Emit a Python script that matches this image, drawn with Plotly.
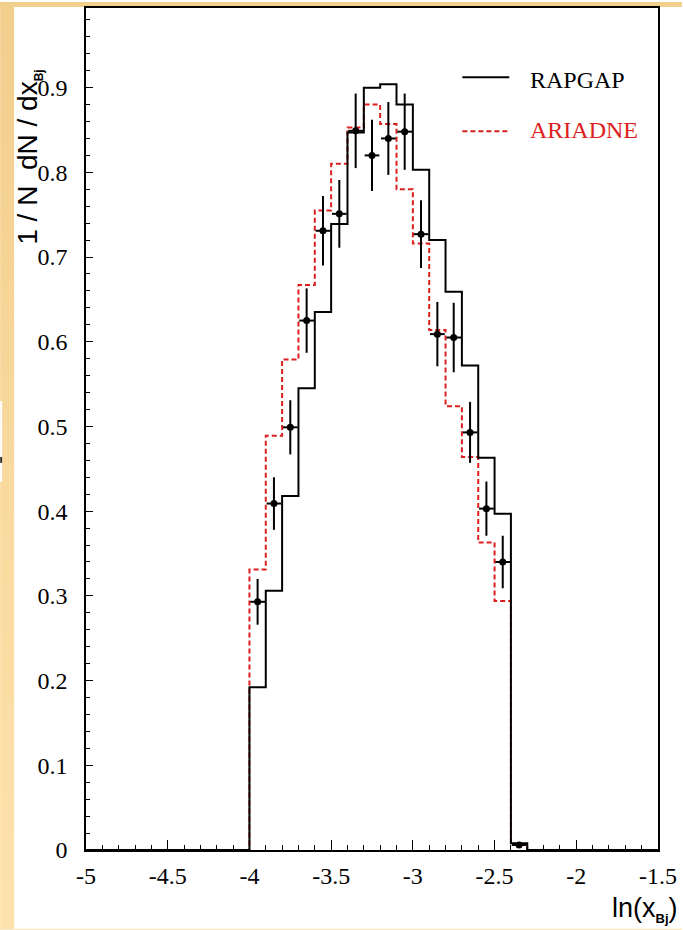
import numpy as np
import plotly.graph_objects as go

# Histogram binning: 35 bins of width 0.1 between -5 and -1.5
BIN_LO, BIN_HI, N_BINS = -5.0, -1.5, 35

# Monte Carlo predictions, 1/N dN/dx per bin (left to right)
rapgap = [0, 0, 0, 0, 0, 0, 0, 0, 0, 0,
          0.192, 0.306, 0.418, 0.545, 0.635, 0.739, 0.847, 0.900,
          0.904, 0.880, 0.803, 0.720, 0.659, 0.572, 0.463, 0.397,
          0.008, 0, 0, 0, 0, 0, 0, 0, 0]
ariadne = [0, 0, 0, 0, 0, 0, 0, 0, 0, 0,
           0.331, 0.489, 0.579, 0.667, 0.755, 0.810, 0.853, 0.880,
           0.857, 0.780, 0.716, 0.614, 0.524, 0.464, 0.363, 0.294,
           0.006, 0, 0, 0, 0, 0, 0, 0, 0]

# Measured points with statistical errors
data_x = [-3.95, -3.85, -3.75, -3.65, -3.55, -3.45, -3.35, -3.25, -3.15,
          -3.05, -2.95, -2.85, -2.75, -2.65, -2.55, -2.45, -2.35]
data_y = [0.293, 0.409, 0.499, 0.625, 0.731, 0.751, 0.849, 0.820, 0.840,
          0.848, 0.727, 0.609, 0.605, 0.493, 0.403, 0.340, 0.006]
data_err = [0.027, 0.031, 0.032, 0.038, 0.041, 0.040, 0.044, 0.042, 0.043,
            0.045, 0.040, 0.038, 0.041, 0.036, 0.032, 0.031, 0.003]

x_tick_vals = [-5, -4.5, -4, -3.5, -3, -2.5, -2, -1.5]
x_tick_text = ["-5", "-4.5", "-4", "-3.5", "-3", "-2.5", "-2", "-1.5"]
y_tick_vals = [0, 0.1, 0.2, 0.3, 0.4, 0.5, 0.6, 0.7, 0.8, 0.9]
y_tick_text = ["0", "0.1", "0.2", "0.3", "0.4", "0.5", "0.6", "0.7", "0.8", "0.9"]

W, H = 683, 930
ML, MR, MT, MB = 86, 24, 6, 80
PW, PH = W - ML - MR, H - MT - MB


def px(x):
    return (x - ML) / PW


def py(y):
    return (H - MB - y) / PH


edges = np.linspace(BIN_LO, BIN_HI, N_BINS + 1)


def step(vals):
    return list(edges), list(vals) + [vals[-1]]


RED = "#dc1e1e"
SERIF = "Liberation Serif"
SANS = "Liberation Sans"

fig = go.Figure()

xa, ya = step(ariadne)
fig.add_trace(go.Scatter(x=xa, y=ya, mode="lines", line_shape="hv",
                         line=dict(color=RED, width=2, dash="5px,3px"),
                         showlegend=False, hoverinfo="skip"))
xr, yr = step(rapgap)
fig.add_trace(go.Scatter(x=xr, y=yr, mode="lines", line_shape="hv",
                         line=dict(color="black", width=2),
                         showlegend=False, hoverinfo="skip"))
fig.add_trace(go.Scatter(x=data_x, y=data_y, mode="markers",
                         marker=dict(color="black", size=7),
                         error_y=dict(type="data", array=data_err, width=0,
                                      thickness=2, color="black"),
                         error_x=dict(type="constant", value=0.045, width=0,
                                      thickness=2, color="black"),
                         showlegend=False))

shapes = []
# orange frame bands around the white slide panel
band_top = (243, 207, 142)
band_bot = (254, 226, 172)
n_strips = 40
for i in range(n_strips):
    t = i / (n_strips - 1)
    c = tuple(int(round(a + (b - a) * t)) for a, b in zip(band_top, band_bot))
    y0 = H * i / n_strips
    y1 = H * (i + 1) / n_strips + 1
    shapes.append(dict(type="rect", xref="paper", yref="paper",
                       x0=px(0), x1=px(14), y0=py(y0), y1=py(y1),
                       fillcolor="rgb(%d,%d,%d)" % c, line_width=0,
                       layer="below"))
shapes.append(dict(type="rect", xref="paper", yref="paper",
                   x0=px(0), x1=px(W), y0=py(0), y1=py(5),
                   fillcolor="rgb(243,207,142)", line_width=0, layer="below"))
shapes.append(dict(type="rect", xref="paper", yref="paper",
                   x0=px(0), x1=px(W), y0=py(929), y1=py(931),
                   fillcolor="rgb(252,232,196)", line_width=0, layer="below"))
# sliver of a neighbouring panel on the left edge
shapes.append(dict(type="rect", xref="paper", yref="paper",
                   x0=px(0), x1=px(2), y0=py(400), y1=py(481),
                   fillcolor="white", line_width=0, layer="below"))
shapes.append(dict(type="rect", xref="paper", yref="paper",
                   x0=px(0), x1=px(2), y0=py(456), y1=py(462),
                   fillcolor="#333333", line_width=0, layer="below"))

# legend entries
shapes.append(dict(type="line", xref="paper", yref="paper",
                   x0=px(463), x1=px(510), y0=py(75.5), y1=py(75.5),
                   line=dict(color="black", width=2)))
shapes.append(dict(type="line", xref="paper", yref="paper",
                   x0=px(463), x1=px(510), y0=py(129.5), y1=py(129.5),
                   line=dict(color=RED, width=2, dash="5px,3px")))

annotations = [
    dict(text="RAPGAP", xref="paper", yref="paper", x=px(529), y=py(78),
         xanchor="left", yanchor="middle", showarrow=False,
         font=dict(family=SERIF, size=24, color="black")),
    dict(text="ARIADNE", xref="paper", yref="paper", x=px(529), y=py(128),
         xanchor="left", yanchor="middle", showarrow=False,
         font=dict(family=SERIF, size=24, color=RED)),
    dict(text="1 / N  dN / dx<sub><span style='font-size:12px;font-weight:bold'>Bj</span></sub>",
         xref="paper", yref="paper", x=px(29), y=py(156),
         xanchor="center", yanchor="middle", textangle=-90, showarrow=False,
         font=dict(family=SANS, size=28, color="black")),
    dict(text="ln(x<sub><span style='font-size:13px;font-weight:bold'>Bj</span></sub>)",
         xref="paper", yref="paper", x=px(681), y=py(910),
         xanchor="right", yanchor="middle", showarrow=False,
         font=dict(family=SANS, size=27, color="black")),
]

fig.update_layout(
    width=W, height=H,
    margin=dict(l=ML, r=MR, t=MT, b=MB, pad=0),
    paper_bgcolor="white", plot_bgcolor="white",
    font=dict(family=SERIF, size=24, color="black"),
    shapes=shapes, annotations=annotations,
    showlegend=False,
)
fig.update_xaxes(range=[BIN_LO, BIN_HI], showgrid=False, zeroline=False,
                 showline=True, linecolor="black", linewidth=1.5, mirror=True,
                 ticks="inside", ticklen=10, tickwidth=1.2, tickcolor="black",
                 tickvals=x_tick_vals, ticktext=x_tick_text,
                 ticklabelstandoff=3,
                 tickfont=dict(family=SERIF, size=24, color="black"),
                 minor=dict(dtick=0.1, tick0=-5, ticks="inside", ticklen=5,
                            tickwidth=1.2, tickcolor="black", showgrid=False))
fig.update_yaxes(range=[0, 0.994], showgrid=False, zeroline=False,
                 showline=True, linecolor="black", linewidth=1.5, mirror=True,
                 ticks="inside", ticklen=7, tickwidth=1.2, tickcolor="black",
                 tickvals=y_tick_vals, ticktext=y_tick_text,
                 ticklabelstandoff=12,
                 tickfont=dict(family=SERIF, size=24, color="black"),
                 minor=dict(dtick=0.02, tick0=0, ticks="inside", ticklen=4,
                            tickwidth=1.2, tickcolor="black", showgrid=False))

fig.write_html("out.html")
